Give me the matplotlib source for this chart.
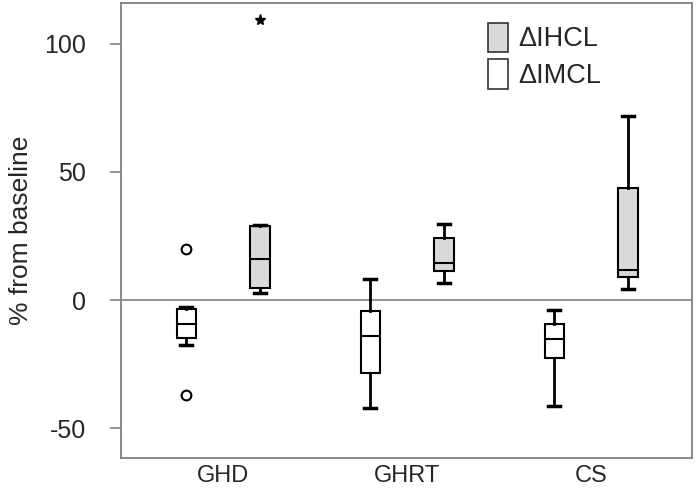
import numpy as np
from matplotlib import pyplot as plt
from matplotlib.patches import Patch

plt.rcParams['font.family'] = ['Liberation Sans', 'DejaVu Sans']

groups = ['GHD', 'GHRT', 'CS']

# box stats (% from baseline)
imcl_whislo = [-17.6, -42.2, -41.4]
imcl_q1 = [-14.8, -28.5, -22.7]
imcl_med = [-9.4, -14.0, -15.2]
imcl_q3 = [-3.5, -4.3, -9.4]
imcl_whishi = [-2.7, 8.2, -3.9]
imcl_fliers = [[20.0, -37.0], [], []]

ihcl_whislo = [2.9, 6.6, 4.3]
ihcl_q1 = [4.7, 11.3, 9.0]
ihcl_med = [16.0, 14.5, 11.7]
ihcl_q3 = [28.9, 24.2, 43.8]
ihcl_whishi = [29.3, 29.7, 71.9]
ihcl_fliers = [[109.4], [], []]


def make_stats(lo, q1, med, q3, hi, fl):
    stats = []
    for i in range(len(lo)):
        stats.append(dict(whislo=lo[i], q1=q1[i], med=med[i], q3=q3[i],
                          whishi=hi[i], fliers=fl[i]))
    return stats


fig = plt.figure(figsize=(7, 4.93), dpi=100)
ax = fig.add_axes([0.173, 0.071, 0.816, 0.923])

pos = np.arange(1, len(groups) + 1)
edge = 'gray'
txt = '#262626'

common = dict(widths=0.105, capwidths=0.065, patch_artist=True,
              medianprops=dict(color='black', lw=1.5),
              whiskerprops=dict(color='black', lw=2),
              capprops=dict(color='black', lw=2.5),
              manage_ticks=False)

ax.bxp(make_stats(imcl_whislo, imcl_q1, imcl_med, imcl_q3, imcl_whishi, imcl_fliers),
       positions=pos - 0.2,
       boxprops=dict(facecolor='white', edgecolor='black', lw=1.5),
       flierprops=dict(marker='o', markerfacecolor='white', markeredgecolor='black',
                       markersize=7, markeredgewidth=1.5),
       **common)
ax.bxp(make_stats(ihcl_whislo, ihcl_q1, ihcl_med, ihcl_q3, ihcl_whishi, ihcl_fliers),
       positions=pos + 0.2,
       boxprops=dict(facecolor='#d9d9d9', edgecolor='black', lw=1.5),
       flierprops=dict(marker='*', markerfacecolor='black', markeredgecolor='black',
                       markersize=8),
       **common)

ax.axhline(0, color=edge, lw=1.2, zorder=0)

ax.set_xlim(0.446, 3.549)
ax.set_ylim(-61.7, 116)
ax.set_xticks(pos)
ax.set_xticklabels(groups, fontsize=17, color=txt)
ax.tick_params(axis='x', length=0, pad=5)
ax.set_yticks([-50, 0, 50, 100])
ax.set_yticklabels(['-50', '0', '50', '100'], fontsize=18, color=txt)
ax.tick_params(axis='y', length=8, color=edge, width=1.2, pad=17)
ax.set_ylabel('% from baseline', fontsize=19, color=txt, labelpad=8)

for s in ax.spines.values():
    s.set_color(edge)
    s.set_linewidth(1.3)

handles = [Patch(facecolor='#d9d9d9', edgecolor='#333333', lw=1.2),
           Patch(facecolor='white', edgecolor='#333333', lw=1.2)]
ax.legend(handles, ['ΔIHCL', 'ΔIMCL'], loc='upper left', bbox_to_anchor=(0.643, 0.957),
          frameon=False, fontsize=19.5, borderpad=0, borderaxespad=0,
          handlelength=0.74, handleheight=1.3,
          handletextpad=0.35, labelspacing=0.25, labelcolor=txt)

fig.savefig('out.png')
